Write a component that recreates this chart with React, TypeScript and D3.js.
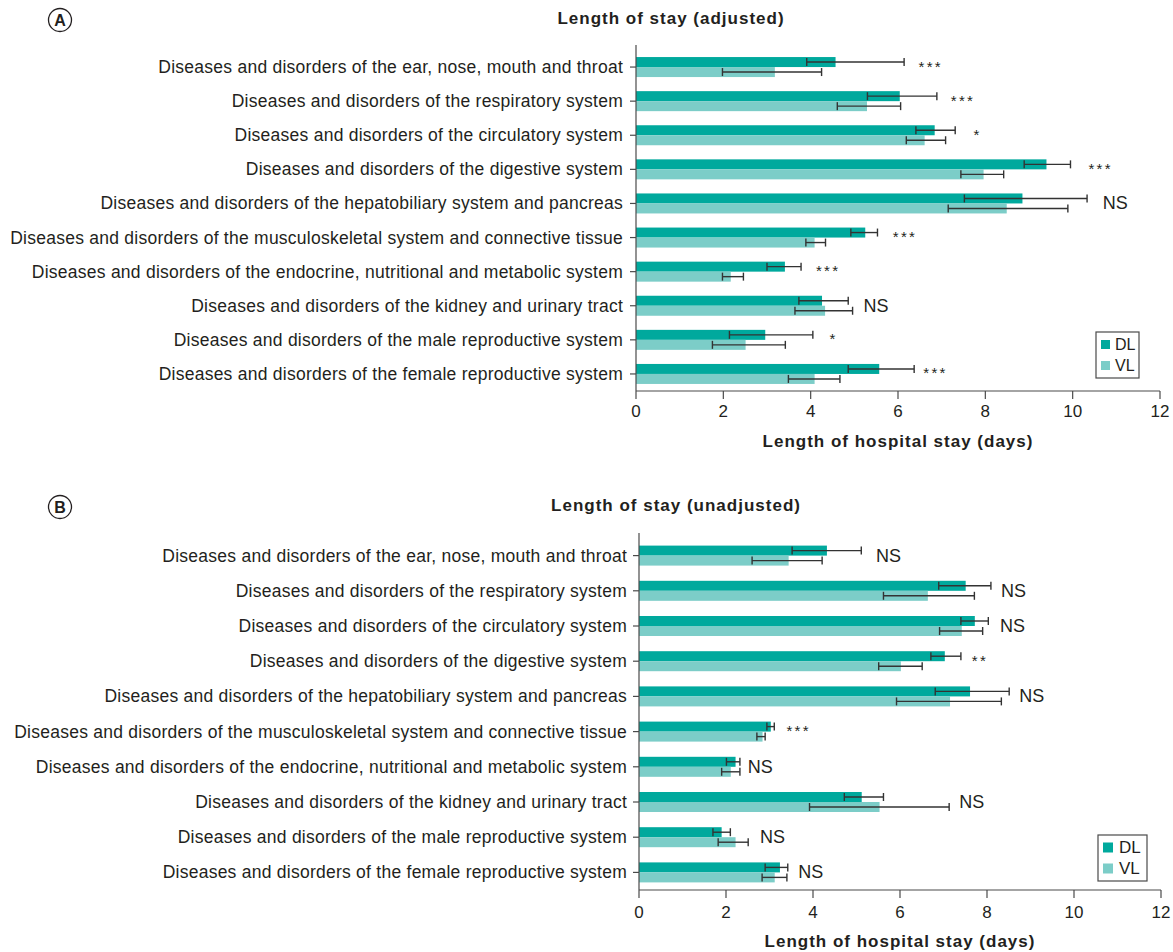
import React from "react";
import * as d3 from "d3";

const categories = [
  "Diseases and disorders of the ear, nose, mouth and throat",
  "Diseases and disorders of the respiratory system",
  "Diseases and disorders of the circulatory system",
  "Diseases and disorders of the digestive system",
  "Diseases and disorders of the hepatobiliary system and pancreas",
  "Diseases and disorders of the musculoskeletal system and connective tissue",
  "Diseases and disorders of the endocrine, nutritional and metabolic system",
  "Diseases and disorders of the kidney and urinary tract",
  "Diseases and disorders of the male reproductive system",
  "Diseases and disorders of the female reproductive system",
];

const xTicks = [0, 2, 4, 6, 8, 10, 12];
const seriesNames = ["DL", "VL"];

// Panel A — adjusted
const adjDL = [4.57, 6.04, 6.84, 9.4, 8.85, 5.25, 3.41, 4.26, 2.96, 5.57];
const adjDLLow = [3.91, 5.3, 6.41, 8.89, 7.52, 4.92, 3.0, 3.73, 2.14, 4.86];
const adjDLHigh = [6.14, 6.89, 7.31, 9.95, 10.33, 5.53, 3.78, 4.86, 4.05, 6.37];
const adjVL = [3.18, 5.29, 6.61, 7.96, 8.49, 4.09, 2.17, 4.33, 2.51, 4.09];
const adjVLLow = [1.98, 4.61, 6.19, 7.44, 7.15, 3.89, 1.98, 3.64, 1.75, 3.49];
const adjVLHigh = [4.25, 6.06, 7.09, 8.42, 9.89, 4.34, 2.46, 4.96, 3.42, 4.67];
const adjSig = ["***", "***", "*", "***", "NS", "***", "***", "NS", "*", "***"];
const adjSigAt = [6.47, 7.21, 7.73, 10.36, 10.69, 5.88, 4.12, 5.21, 4.43, 6.58];

// Panel B — unadjusted
const unDL = [4.32, 7.51, 7.72, 7.03, 7.61, 3.03, 2.22, 5.12, 1.9, 3.24];
const unDLLow = [3.52, 6.89, 7.4, 6.71, 6.81, 2.94, 2.01, 4.72, 1.7, 2.9];
const unDLHigh = [5.11, 8.09, 8.03, 7.4, 8.51, 3.11, 2.32, 5.62, 2.1, 3.42];
const unVL = [3.44, 6.64, 7.42, 6.02, 7.15, 2.84, 2.11, 5.53, 2.22, 3.12];
const unVLLow = [2.6, 5.62, 6.91, 5.51, 5.92, 2.71, 1.9, 3.92, 1.82, 2.83];
const unVLHigh = [4.21, 7.71, 7.9, 6.51, 8.33, 2.9, 2.32, 7.13, 2.51, 3.4];
const unSig = ["NS", "NS", "NS", "**", "NS", "***", "NS", "NS", "NS", "NS"];
const unSigAt = [5.45, 8.32, 8.3, 7.65, 8.74, 3.39, 2.5, 7.36, 2.78, 3.66];

const DL_COLOR = "#00a99d";
const VL_COLOR = "#7ccdc8";
const TEXT = "#231f20";
const AXIS = "#4a4a4a";
const ERR = "#333333";
const FONT = "'Liberation Sans', Arial, Helvetica, sans-serif";

type PanelProps = {
  letter: string;
  title: string;
  titleX: number;
  titleY: number;
  letterX: number;
  letterY: number;
  xRange: [number, number];
  yRange: [number, number];
  labelEnd: number;
  dl: number[];
  dlLow: number[];
  dlHigh: number[];
  vl: number[];
  vlLow: number[];
  vlHigh: number[];
  sig: string[];
  sigAt: number[];
  tickLabelY: number;
  axisTitleY: number;
  legend: { x: number; y: number; w: number; h: number; sq: number; fs: number; gap: number };
};

function Panel(p: PanelProps) {
  const x = d3.scaleLinear().domain([0, 12]).range(p.xRange);
  const y = d3.scaleBand<string>().domain(categories).range(p.yRange).padding(0);
  const barH = 10;
  const x0 = x(0);
  const yBottom = p.yRange[1];
  const cap = 4;

  const errBar = (lo: number, hi: number, cy: number, key: string) => (
    <g key={key} stroke={ERR} strokeWidth={1.4}>
      <line x1={x(lo)} x2={x(hi)} y1={cy} y2={cy} />
      <line x1={x(lo)} x2={x(lo)} y1={cy - cap} y2={cy + cap} />
      <line x1={x(hi)} x2={x(hi)} y1={cy - cap} y2={cy + cap} />
    </g>
  );

  const lg = p.legend;

  return (
    <g fontFamily={FONT} fill={TEXT}>
      {/* circled letter */}
      <circle cx={p.letterX} cy={p.letterY} r={11.5} fill="none" stroke={TEXT} strokeWidth={1.3} />
      <text x={p.letterX} y={p.letterY + 6} textAnchor="middle" fontSize={16} fontWeight="bold">
        {p.letter}
      </text>
      {/* title */}
      <text
        x={p.titleX}
        y={p.titleY}
        textAnchor="middle"
        fontSize={17}
        fontWeight="bold"
        letterSpacing={1}
        dominantBaseline="central"
      >
        {p.title}
      </text>

      {/* bars */}
      {categories.map((c, i) => {
        const cy = (y(c) as number) + y.bandwidth() / 2;
        return (
          <g key={c}>
            <rect x={x0} y={cy - barH} width={x(p.dl[i]) - x0} height={barH} fill={DL_COLOR} />
            <rect x={x0} y={cy} width={x(p.vl[i]) - x0} height={barH} fill={VL_COLOR} />
            {errBar(p.dlLow[i], p.dlHigh[i], cy - barH / 2, "d" + i)}
            {errBar(p.vlLow[i], p.vlHigh[i], cy + barH / 2, "v" + i)}
            {p.sig[i] === "NS" ? (
              <text x={x(p.sigAt[i])} y={cy} fontSize={18} dominantBaseline="central">
                NS
              </text>
            ) : (
              <text x={x(p.sigAt[i])} y={cy + 4.5} fontSize={15} letterSpacing={2.3}>
                {p.sig[i]}
              </text>
            )}
          </g>
        );
      })}

      {/* y axis */}
      <line x1={x0} x2={x0} y1={p.yRange[0] - 5} y2={yBottom} stroke={AXIS} strokeWidth={1.2} />
      {categories.map((c) => {
        const cy = (y(c) as number) + y.bandwidth() / 2;
        return (
          <g key={"t" + c}>
            <line x1={x0 - 6} x2={x0} y1={cy} y2={cy} stroke={AXIS} strokeWidth={1.2} />
            <text
              x={p.labelEnd}
              y={cy}
              textAnchor="end"
              fontSize={17.5}
              letterSpacing={0.25}
              dominantBaseline="central"
            >
              {c}
            </text>
          </g>
        );
      })}

      {/* x axis */}
      <line x1={x0} x2={x(12)} y1={yBottom} y2={yBottom} stroke={AXIS} strokeWidth={1.2} />
      {xTicks.map((t) => (
        <g key={"x" + t}>
          <line x1={x(t)} x2={x(t)} y1={yBottom} y2={yBottom + 8} stroke={AXIS} strokeWidth={1.2} />
          <text x={x(t)} y={p.tickLabelY} textAnchor="middle" fontSize={17} dominantBaseline="central">
            {t}
          </text>
        </g>
      ))}
      <text
        x={(x(0) + x(12)) / 2}
        y={p.axisTitleY}
        textAnchor="middle"
        fontSize={17}
        fontWeight="bold"
        letterSpacing={1}
        dominantBaseline="central"
      >
        Length of hospital stay (days)
      </text>

      {/* legend */}
      <rect x={lg.x} y={lg.y} width={lg.w} height={lg.h} fill="#fff" stroke={AXIS} strokeWidth={1.2} />
      {seriesNames.map((s, i) => {
        const cy = lg.y + lg.h / 4 + (i * lg.h) / 2 + (i === 0 ? 1 : -1);
        return (
          <g key={s}>
            <rect
              x={lg.x + 5}
              y={cy - lg.sq / 2}
              width={lg.sq}
              height={lg.sq}
              fill={i === 0 ? DL_COLOR : VL_COLOR}
            />
            <text x={lg.x + 5 + lg.sq + lg.gap} y={cy} fontSize={lg.fs} dominantBaseline="central">
              {s}
            </text>
          </g>
        );
      })}
    </g>
  );
}

export default function App() {
  return (
    <div style={{ position: "absolute", left: 0, top: 0, width: 1173, height: 952, background: "#fff" }}>
      <svg width={1173} height={952} style={{ display: "block" }}>
        <rect width={1173} height={952} fill="#fff" />
        <Panel
          letter="A"
          title="Length of stay (adjusted)"
          titleX={671}
          titleY={18}
          letterX={60}
          letterY={20}
          xRange={[636, 1160]}
          yRange={[50, 391]}
          labelEnd={623}
          dl={adjDL}
          dlLow={adjDLLow}
          dlHigh={adjDLHigh}
          vl={adjVL}
          vlLow={adjVLLow}
          vlHigh={adjVLHigh}
          sig={adjSig}
          sigAt={adjSigAt}
          tickLabelY={411}
          axisTitleY={441}
          legend={{ x: 1096, y: 332, w: 43, h: 46, sq: 9, fs: 16, gap: 5 }}
        />
        <Panel
          letter="B"
          title="Length of stay (unadjusted)"
          titleX={676}
          titleY={505}
          letterX={60}
          letterY={507}
          xRange={[639, 1161]}
          yRange={[538, 890]}
          labelEnd={627}
          dl={unDL}
          dlLow={unDLLow}
          dlHigh={unDLHigh}
          vl={unVL}
          vlLow={unVLLow}
          vlHigh={unVLHigh}
          sig={unSig}
          sigAt={unSigAt}
          tickLabelY={912}
          axisTitleY={941}
          legend={{ x: 1098, y: 835, w: 49, h: 46, sq: 10, fs: 17, gap: 6 }}
        />
      </svg>
    </div>
  );
}
